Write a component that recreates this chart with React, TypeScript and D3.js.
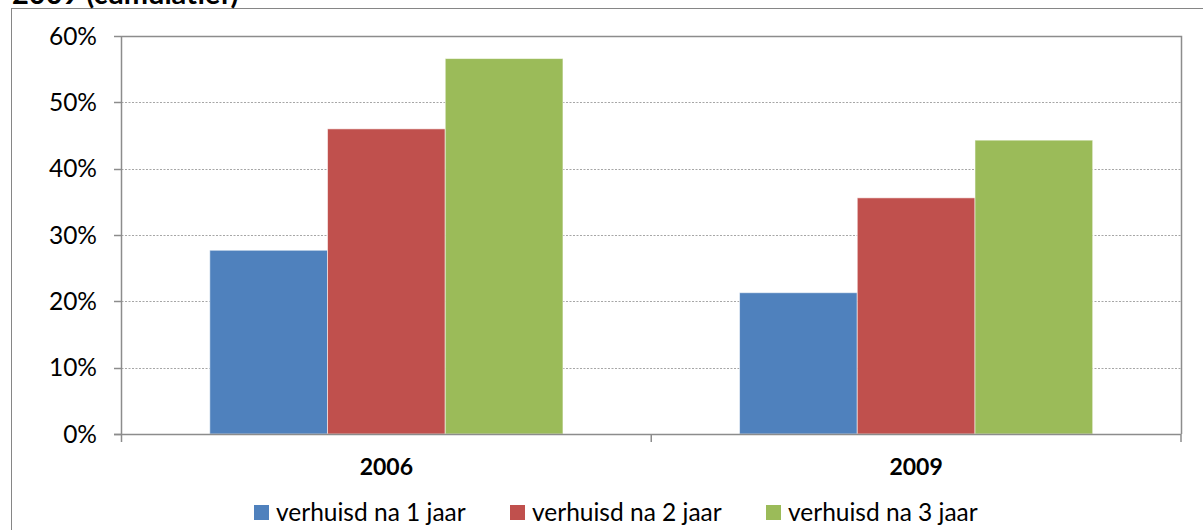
import * as d3 from 'd3';
import React, {useRef, useEffect} from 'react';

const categories = ["2006", "2009"];
const seriesNames = ["verhuisd na 1 jaar", "verhuisd na 2 jaar", "verhuisd na 3 jaar"];
const seriesColours = ["#4F81BD", "#C0504D", "#9BBB59"];
// values per series, one per category (fraction)
const na1jaar = [0.277, 0.213];
const na2jaar = [0.460, 0.356];
const na3jaar = [0.566, 0.443];
const yTicks = [0, 0.1, 0.2, 0.3, 0.4, 0.5, 0.6];

const W = 1203;
const H = 530;
const FONT = "Lato, 'Open Sans', sans-serif";

export default function App() {
  const ref = useRef<SVGSVGElement>(null);

  useEffect(() => {
    const svg = d3.select(ref.current);
    svg.selectAll("*").remove();

    const series = [na1jaar, na2jaar, na3jaar];
    const left = 121.5, right = 1181, top = 36, bottom = 434;

    // outer chart border
    svg.append("rect")
      .attr("x", 11.5).attr("y", 8.5)
      .attr("width", W).attr("height", H)
      .attr("fill", "white")
      .attr("stroke", "#868686");

    // clipped title (only bottom visible)
    svg.append("text")
      .attr("x", 12).attr("y", 3.5)
      .attr("font-family", FONT)
      .attr("font-weight", "bold")
      .attr("font-size", 29)
      .text("2009 (cumulatief)");

    const x0 = d3.scaleBand().domain(categories).range([left, right]);
    const x1 = d3.scaleBand()
      .domain(seriesNames)
      .range([0, x0.bandwidth()])
      .paddingOuter(0.75)
      .paddingInner(0);
    const y = d3.scaleLinear().domain([0, 0.6]).range([bottom, top]);

    // gridlines
    svg.append("g")
      .selectAll("line")
      .data(yTicks.filter(t => t > 0 && t < 0.6))
      .enter()
      .append("line")
      .attr("x1", left).attr("x2", right)
      .attr("y1", d => Math.round(y(d)) + 0.5)
      .attr("y2", d => Math.round(y(d)) + 0.5)
      .attr("stroke", "#A6A6A6")
      .attr("stroke-dasharray", "2,1.5");

    // bars
    categories.forEach((cat, ci) => {
      svg.append("g")
        .selectAll("rect")
        .data(series.map((s, si) => ({name: seriesNames[si], value: s[ci], colour: seriesColours[si]})))
        .enter()
        .append("rect")
        .attr("x", d => (x0(cat) as number) + (x1(d.name) as number))
        .attr("y", d => y(d.value))
        .attr("width", x1.bandwidth())
        .attr("height", d => bottom - y(d.value))
        .attr("fill", d => d.colour)
        .attr("stroke", "rgba(255,255,255,0.55)")
        .attr("stroke-width", 1);
    });

    // plot area border (top + right)
    svg.append("path")
      .attr("d", `M${left},${top + 0.5}H${right + 0.5}V${bottom}`)
      .attr("fill", "none")
      .attr("stroke", "#8C8C8C")
      .attr("stroke-width", 1.5);

    // y axis
    svg.append("line")
      .attr("x1", left).attr("x2", left)
      .attr("y1", top).attr("y2", bottom)
      .attr("stroke", "#8C8C8C").attr("stroke-width", 1.5);
    const yt = svg.append("g")
      .selectAll("g")
      .data(yTicks)
      .enter()
      .append("g");
    yt.append("line")
      .attr("x1", 114).attr("x2", left)
      .attr("y1", d => Math.round(y(d)) + 0.5)
      .attr("y2", d => Math.round(y(d)) + 0.5)
      .attr("stroke", "#8C8C8C").attr("stroke-width", 1.5);
    yt.append("text")
      .attr("x", 97)
      .attr("y", d => y(d))
      .attr("dy", "0.36em")
      .attr("text-anchor", "end")
      .attr("font-family", FONT)
      .attr("font-size", 24.5)
      .attr("fill", "#000")
      .text(d => d3.format(".0%")(d));

    // x axis
    svg.append("line")
      .attr("x1", 114).attr("x2", right)
      .attr("y1", bottom + 0.5).attr("y2", bottom + 0.5)
      .attr("stroke", "#8C8C8C").attr("stroke-width", 1.5);
    const bounds = [left, ...categories.map(c => (x0(c) as number) + x0.bandwidth())];
    svg.append("g")
      .selectAll("line")
      .data(bounds)
      .enter()
      .append("line")
      .attr("x1", d => d).attr("x2", d => d)
      .attr("y1", bottom).attr("y2", bottom + 8)
      .attr("stroke", "#8C8C8C").attr("stroke-width", 1.5);
    svg.append("g")
      .selectAll("text")
      .data(categories)
      .enter()
      .append("text")
      .attr("x", d => (x0(d) as number) + x0.bandwidth() / 2)
      .attr("y", 467)
      .attr("dy", "0.36em")
      .attr("text-anchor", "middle")
      .attr("font-family", FONT)
      .attr("font-weight", "bold")
      .attr("font-size", 23)
      .text(d => d);

    // legend
    const legendX = [254, 510, 766];
    const lg = svg.append("g")
      .selectAll("g")
      .data(seriesNames)
      .enter()
      .append("g")
      .attr("transform", (_, i) => `translate(${legendX[i]},505)`);
    lg.append("rect")
      .attr("width", 15).attr("height", 15)
      .attr("fill", (_, i) => seriesColours[i]);
    lg.append("text")
      .attr("x", 22).attr("y", 7.5)
      .attr("dy", "0.36em")
      .attr("font-family", FONT)
      .attr("font-size", 24.5)
      .text(d => d);
  }, []);

  return (
    <svg ref={ref} width={W} height={H}
         style={{position: "absolute", left: 0, top: 0, background: "white"}}>
    </svg>
  );
}
